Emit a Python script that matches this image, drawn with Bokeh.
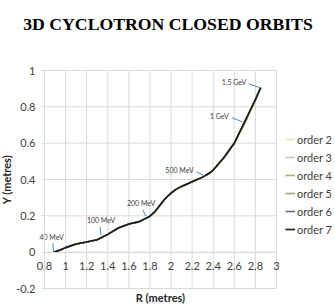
from bokeh.plotting import figure
from bokeh.models import (Range1d, LinearAxis, FixedTicker, Legend, LegendItem)
from bokeh.core.properties import value
from bokeh.embed import file_html
from bokeh.resources import INLINE

# ---- data ----
R = [0.886, 0.95, 1.0, 1.1, 1.2, 1.3, 1.4, 1.5, 1.6, 1.7, 1.8, 1.85, 1.9, 1.95, 2.0,
     2.05, 2.1, 2.2, 2.3, 2.35, 2.4, 2.5, 2.6, 2.7, 2.8, 2.85]
y_order2 = [0, 0.012, 0.025, 0.045, 0.056, 0.068, 0.098, 0.133, 0.155, 0.168, 0.198,
            0.225, 0.262, 0.298, 0.325, 0.347, 0.362, 0.388, 0.413, 0.43, 0.452,
            0.52, 0.61, 0.715, 0.835, 0.91]
y_order3 = [0, 0.012, 0.025, 0.045, 0.056, 0.068, 0.098, 0.133, 0.155, 0.168, 0.198,
            0.225, 0.262, 0.298, 0.325, 0.347, 0.362, 0.388, 0.413, 0.43, 0.452,
            0.52, 0.605, 0.712, 0.84, 0.905]
y_order4 = [0, 0.012, 0.025, 0.045, 0.056, 0.068, 0.098, 0.133, 0.155, 0.168, 0.198,
            0.225, 0.262, 0.298, 0.325, 0.347, 0.362, 0.388, 0.413, 0.43, 0.452,
            0.518, 0.6, 0.71, 0.84, 0.905]
y_order5 = [0, 0.012, 0.025, 0.045, 0.056, 0.068, 0.098, 0.133, 0.155, 0.168, 0.198,
            0.225, 0.262, 0.298, 0.325, 0.347, 0.362, 0.388, 0.413, 0.43, 0.452,
            0.52, 0.6, 0.72, 0.84, 0.905]
y_order6 = [0, 0.012, 0.025, 0.045, 0.056, 0.068, 0.098, 0.133, 0.155, 0.168, 0.198,
            0.225, 0.262, 0.298, 0.325, 0.347, 0.362, 0.388, 0.413, 0.43, 0.452,
            0.52, 0.6, 0.72, 0.84, 0.905]
y_order7 = [0, 0.012, 0.025, 0.045, 0.056, 0.068, 0.098, 0.133, 0.155, 0.168, 0.198,
            0.225, 0.262, 0.298, 0.325, 0.347, 0.362, 0.388, 0.413, 0.43, 0.452,
            0.52, 0.6, 0.72, 0.84, 0.905]
series_names = ["order 2", "order 3", "order 4", "order 5", "order 6", "order 7"]
series_y = [y_order2, y_order3, y_order4, y_order5, y_order6, y_order7]
series_colors = ["#e4e6b4", "#c9cfb0", "#a9b865", "#aba47c", "#6e6e6e", "#1a1a1a"]

# energy annotations
ann_text = ["40 MeV", "100 MeV", "200 MeV", "500 MeV", "1 GeV", "1.5 GeV"]
ann_tx = [0.867, 1.336, 1.716, 2.08, 2.458, 2.597]
ann_ty = [0.084, 0.175, 0.272, 0.454, 0.75, 0.937]
arr_x0 = [0.880, 1.326, 1.73, 2.242, 2.577, 2.736]
arr_y0 = [0.05, 0.139, 0.233, 0.443, 0.74, 0.926]
arr_x1 = [0.885, 1.336, 1.763, 2.32, 2.673, 2.848]
arr_y1 = [0.0, 0.093, 0.198, 0.418, 0.718, 0.905]

x_ticks = [0.8, 1.0, 1.2, 1.4, 1.6, 1.8, 2.0, 2.2, 2.4, 2.6, 2.8, 3.0]
x_labels = ["0.8", "1", "1.2", "1.4", "1.6", "1.8", "2", "2.2", "2.4", "2.6", "2.8", "3"]
y_ticks = [-0.2, 0.0, 0.2, 0.4, 0.6, 0.8, 1.0]
y_labels = ["-0.2", "0", "0.2", "0.4", "0.6", "0.8", "1"]

FONT = "Lato"
GRID = "#d9d9d9"

# layout: plot box 0.8..3.0 x -0.2..1.0 occupies pixels x 44..276, y 70..288
W, H = 335, 306
TOP = 44
XPX = 232 / 2.2
YPX = 218 / 1.2
XSTART = 0.8 - 44 / XPX
XEND = 3.0 + (W - 276) / XPX
YEND = 1.0 + (70 - TOP) / YPX
YSTART = -0.2 - (H - 288) / YPX

p = figure(width=W, height=H, output_backend="svg", toolbar_location=None,
           x_range=Range1d(XSTART, XEND), y_range=Range1d(YSTART, YEND),
           min_border_left=0, min_border_right=0, min_border_top=TOP,
           min_border_bottom=0)
p.outline_line_color = None
p.background_fill_color = "white"
p.border_fill_color = "white"
p.grid.visible = False

p.title.text = "3D CYCLOTRON CLOSED ORBITS"
p.title.text_font = "Liberation Serif"
p.title.text_font_style = "bold"
p.title.text_font_size = "17.7px"
p.title.align = "center"
p.title.text_color = "black"
p.title.standoff = 22

# gridlines
p.segment(x0=x_ticks, y0=y_ticks[0], x1=x_ticks, y1=y_ticks[-1], line_color=GRID, line_width=1)
p.segment(x0=x_ticks[0], y0=y_ticks, x1=x_ticks[-1], y1=y_ticks, line_color=GRID, line_width=1)

# x axis crossing at y = 0
xa = p.xaxis[0]
xa.fixed_location = 0
xa.bounds = (x_ticks[0], x_ticks[-1])
xa.ticker = FixedTicker(ticks=x_ticks)
xa.major_label_overrides = dict(zip(x_ticks, x_labels))
xa.major_tick_out = 0
xa.major_tick_in = 0
xa.minor_tick_line_color = None
xa.axis_line_color = GRID
xa.major_label_standoff = 10
xa.major_label_text_font = FONT
xa.major_label_text_font_size = "11px"
xa.major_label_text_color = "#404040"

# label-only axis along the bottom of the plot box
lab = LinearAxis(ticker=FixedTicker(ticks=[]), axis_label="R (metres)",
                 bounds=(x_ticks[0], x_ticks[-1]), fixed_location=y_ticks[0],
                 axis_line_color=None, major_tick_line_color=None,
                 minor_tick_line_color=None, major_tick_out=0,
                 major_label_standoff=0, axis_label_standoff=2)
lab.axis_label_text_font = FONT
lab.axis_label_text_font_style = "bold"
lab.axis_label_text_font_size = "11px"
lab.axis_label_text_color = "#262626"
p.add_layout(lab, "below")

ya = p.yaxis[0]
ya.fixed_location = x_ticks[0]
ya.bounds = (y_ticks[0], y_ticks[-1])
ya.ticker = FixedTicker(ticks=y_ticks)
ya.major_label_overrides = dict(zip(y_ticks, y_labels))
ya.major_tick_out = 3
ya.major_tick_in = 0
ya.major_tick_line_color = GRID
ya.minor_tick_line_color = None
ya.axis_line_color = GRID
ya.major_label_standoff = 6
ya.major_label_text_font = FONT
ya.major_label_text_font_size = "11px"
ya.major_label_text_color = "#404040"
ya.axis_label = "Y (metres)"
ya.axis_label_text_font = FONT
ya.axis_label_text_font_style = "bold"
ya.axis_label_text_font_size = "11px"
ya.axis_label_text_color = "#262626"
ya.axis_label_standoff = 0

items = []
for name, ys, col in zip(series_names, series_y, series_colors):
    r = p.line(R, ys, line_color=col, line_width=1.6)
    items.append(LegendItem(label=name, renderers=[r]))

p.segment(arr_x0, arr_y0, arr_x1, arr_y1, line_color="#4a86c5", line_width=1)
p.text(ann_tx, ann_ty, text=ann_text, text_font=value(FONT), text_font_size="7px",
       text_align="center", text_baseline="middle", text_color="#404040")

legend = Legend(items=items, location=(285, 70), orientation="vertical",
                border_line_color=None, background_fill_alpha=0,
                label_text_font=FONT, label_text_font_size="11px",
                label_text_color="#404040", glyph_width=10, glyph_height=14,
                label_height=14, spacing=4, padding=0, margin=0,
                label_standoff=2)
p.add_layout(legend, "center")

open("out.html", "w").write(file_html(p, INLINE))
